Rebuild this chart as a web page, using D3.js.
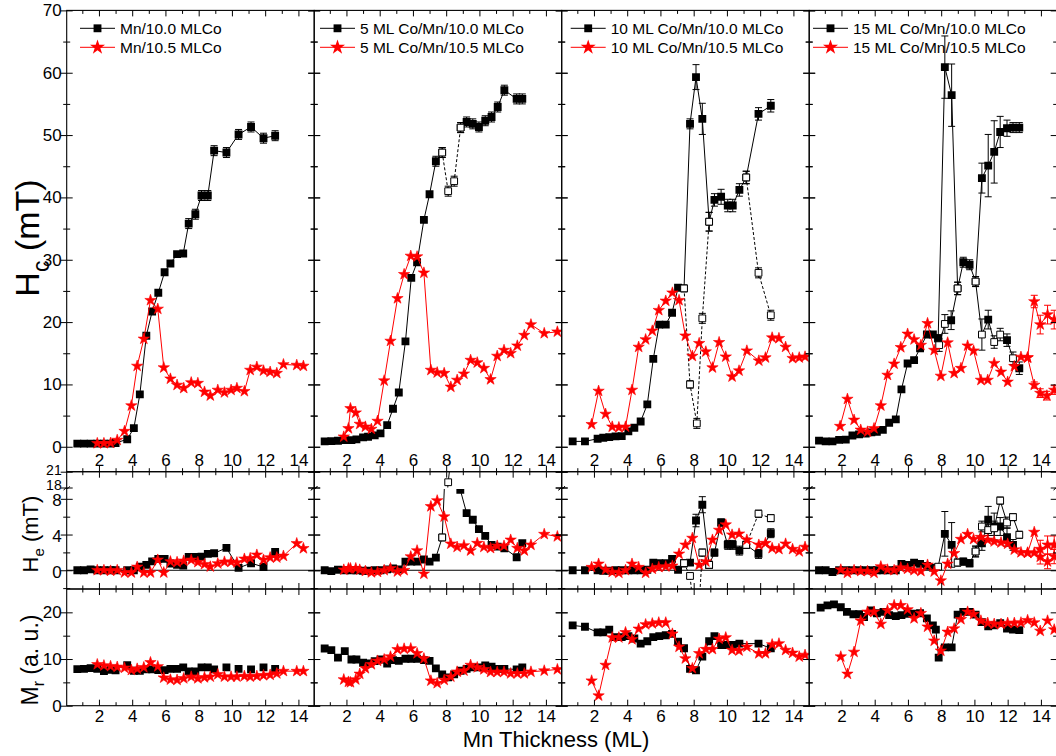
<!DOCTYPE html>
<html>
<head>
<meta charset="utf-8">
<script src="https://cdn.jsdelivr.net/npm/d3@7"></script>
<style>
  body { margin: 0; background: #fff; }
  svg { display: block; }
</style>
</head>
<body>
<svg id="chart" width="1056" height="756"></svg>
<script>
// ---------------------------------------------------------------------------
// Data: [thickness (ML), value, error, open marker flag]; null breaks a line
// ---------------------------------------------------------------------------
const legendBlack = ["Mn/10.0 MLCo", "5 ML Co/Mn/10.0 MLCo", "10 ML Co/Mn/10.0 MLCo", "15 ML Co/Mn/10.0 MLCo"];
const legendRed = ["Mn/10.5 MLCo", "5 ML Co/Mn/10.5 MLCo", "10 ML Co/Mn/10.5 MLCo", "15 ML Co/Mn/10.5 MLCo"];
const xMajorTicks = [2, 4, 6, 8, 10, 12, 14];
const xMinorTicks = [1, 3, 5, 7, 9, 11, 13];
const hcTicks = [0, 10, 20, 30, 40, 50, 60, 70];
const heLowTicks = [0, 4, 8];
const heHighTicks = [18, 21];
const mrTicks = [0, 10, 20];

// ---- Mn / Co wedge ----
const hcBlack1 = [[0.7,0.5],[1.1,0.5],[1.5,0.5],[1.9,0.5],[2.3,0.5],[2.7,0.5],[3.0,0.6],[3.7,1.2],[4.1,3.0],[4.46,8.4],[4.85,17.8],[5.2,21.7],[5.57,24.7],[5.95,28.0],[6.3,29.4],[6.7,30.9],[7.07,31.0],[7.4,35.8,0.8],[7.8,37.3,0.8],[8.17,40.3,0.8],[8.55,40.3,0.8],[8.93,47.5,0.8],[9.67,47.2,0.8],[10.4,50.1,0.8],[11.15,51.3,0.8],[11.9,49.5,0.8],[12.6,49.9,0.8]];
const hcRed1 = [[1.9,0.55],[2.3,0.55],[2.7,0.6],[3.1,1.07],[3.54,2.5],[3.95,6.6],[4.3,12.95],[4.7,17.3],[5.1,23.5],[5.54,22.1],[5.9,12.7],[6.3,10.9],[6.7,9.9],[7.1,9.4],[7.55,10.3],[7.95,10.2],[8.35,8.8],[8.7,8.2],[9.15,9.1],[9.55,8.7],[9.95,9.1],[10.3,9.4],[10.75,8.9],[11.1,12.3],[11.5,12.8],[11.9,12.2],[12.3,12.0],[12.7,11.8],[13.1,13.2],[13.9,13.1],[14.3,12.95]];
const heBlack1 = [[0.7,0],[1.1,0],[1.5,0.1],[1.9,0],[2.3,0],[2.7,0],[3.0,0],[3.7,0],[4.1,0],[4.46,0.4],[4.85,0.6],[5.2,1.0],[5.57,1.27],[5.95,1.27],[6.3,0.75],[6.7,0.6],[7.07,0.52],[7.4,1.5],[7.8,1.5],[8.17,1.53],[8.55,1.83],[8.93,1.9],[9.67,2.5],[10.4,0.26],[11.15,0.79],[11.9,0.37],[12.6,2.04]];
const heRed1 = [[1.9,0],[2.3,0],[2.7,-0.07],[3.1,0],[3.54,-0.26],[3.95,-0.26],[4.3,0.37],[4.7,-0.26],[5.1,-0.26],[5.54,1.16],[5.9,-0.26],[6.3,0.97],[6.7,0.9],[7.1,1.05],[7.55,1.16],[7.95,0.9],[8.35,0.67],[8.7,0.4],[9.15,0.75],[9.55,0.94],[9.95,0.94],[10.3,0.86],[10.75,1.27],[11.1,1.34],[11.5,1.72],[11.9,1.16],[12.3,1.42],[12.7,1.42],[13.1,1.6],[13.9,3.0],[14.3,2.45]];
const mrBlack1 = [[0.7,7.84],[1.1,7.9],[1.5,8.05],[1.9,7.9],[2.3,7.4],[2.7,7.7],[3.0,7.6],[3.7,8.7],[4.1,7.5],[4.46,7.5],[4.85,7.77],[5.2,7.77],[5.57,7.63],[5.95,7.63],[6.3,7.9],[6.7,7.9],[7.07,8.2],[7.4,7.35],[7.8,7.35],[8.17,8.2],[8.55,8.2],[8.93,7.77],[9.67,8.2],[10.4,7.9],[11.15,7.77],[11.9,8.2],[12.6,7.9]];
const mrRed1 = [[1.9,8.84],[2.3,8.6],[2.7,8.45],[3.1,8.3],[3.54,8.1],[3.95,7.63],[4.3,7.9],[4.7,8.2],[5.1,9.27],[5.54,8.4],[5.9,5.99],[6.3,5.57],[6.7,5.5],[7.1,5.84],[7.55,6.2],[7.95,5.84],[8.35,6.05],[8.7,6.2],[9.15,6.7],[9.55,6.2],[9.95,6.2],[10.3,6.2],[10.75,6.34],[11.1,6.2],[11.5,6.34],[11.9,6.5],[12.3,6.6],[12.7,6.9],[13.1,7.4],[13.9,7.4],[14.3,7.4]];

// ---- 5 ML Co cap ----
const hcBlack2 = [[0.69,0.86],[1.09,0.91],[1.49,0.96],[1.9,1.07],[2.3,1.07],[2.6,1.18],[3.0,1.5],[3.3,1.6],[3.7,1.82],[4.05,2.14],[4.45,3.48],[4.8,6.1],[5.15,8.7],[5.55,16.9],[5.9,27.1],[6.25,29.6],[6.66,36.4],[7.0,40.5],[7.38,45.8,0.8],[7.76,47.2,0.8,1],null,[8.87,51.2,0.8,1],[9.23,52.1,0.8],[9.6,51.8,0.8],[9.97,51.3,0.8],[10.35,52.3,0.8],[10.73,52.9,0.8],[11.1,54.5,0.8],[11.5,57.2,0.8],[12.24,55.8,0.8],[12.58,55.8,0.8]];
const hcBlackAlt2 = [[7.76,47.2,0.8,1],[8.12,41.0,0.8,1],[8.48,42.6,0.8,1],[8.87,51.2,0.8,1]];
const hcRed2 = [[1.84,1.6],[2.12,2.94],[2.24,6.15],[2.56,5.46],[2.8,3.64],[3.14,3.2],[3.5,2.84],[3.87,4.12],[4.27,10.6],[4.65,16.96],[5.07,23.8],[5.47,27.66],[5.87,30.6],[6.25,30.5],[6.66,27.9],[7.08,12.3],[7.46,11.9],[7.88,11.8],[8.28,9.6],[8.66,10.7],[9.07,11.7],[9.47,13.9],[9.87,13.5],[10.27,12.6],[10.67,10.8],[11.07,14.55],[11.48,15.5],[11.88,15.0],[12.28,16.2],[12.7,17.9],[13.1,19.6],[13.9,18.2],[14.69,18.45]];
const heBlack2 = [[0.69,0],[1.09,-0.1],[1.49,0.05],[1.9,0],[2.3,0],[2.6,0],[3.0,-0.05],[3.3,-0.05],[3.7,0],[4.05,0],[4.45,0.1],[4.8,0.2],[5.15,0.1],[5.55,0.97],[5.9,0.97],[6.25,0.97],[6.66,1.2],[7.0,0.97],[7.38,1.42],[7.76,3.67,0,1],null,[8.85,9.0],[9.23,6.4,0.3],[9.6,5.65,0.3],[9.97,4.6,0.3],[10.35,3.85,0.3],[10.73,2.84],[11.1,2.65],[11.5,2.47,0.3],[12.24,1.46,0.3],[12.58,3.03,0.3]];
const heBlackAlt2 = [[7.76,3.67,0,1],[8.12,19.0,0,1],[8.3,24.0]];
const heRed2 = [[1.84,0.05],[2.12,0.2],[2.24,0.2],[2.56,0.2],[2.8,0.05],[3.14,-0.1],[3.5,-0.25],[3.87,-0.2],[4.27,0],[4.65,0.2],[5.07,-0.15],[5.47,0],[5.87,1.53],[6.25,2.2],[6.66,-0.4],[7.08,7.15],[7.46,7.8],[7.88,6.0],[8.28,2.96],[8.66,2.6],[9.07,2.77],[9.47,2.2],[9.87,3.03],[10.27,2.6],[10.67,2.47],[11.07,2.73],[11.48,2.73],[11.88,3.4],[12.28,2.47],[12.7,2.2],[13.1,2.84],[13.9,4.04],[14.69,3.78]];
const mrBlack2 = [[0.69,12.25],[1.09,11.9],[1.49,10.3],[1.9,11.7],[2.3,9.9],[2.6,9.9],[3.0,9.2],[3.3,9.05],[3.7,9.55],[4.05,9.9],[4.45,9.05],[4.8,9.76],[5.15,9.6],[5.55,10.05],[5.9,10.05],[6.25,10.05],[6.66,9.76],[7.0,9.6],[7.38,8.0],[7.76,6.7],[8.12,6.07],[8.48,6.7],[8.87,7.5],[9.23,7.9],[9.6,8.2],[9.97,8.2],[10.35,8.6],[10.73,8.35],[11.1,7.9],[11.5,7.9],[12.24,7.77],[12.58,8.2]];
const mrRed2 = [[1.84,5.6],[2.12,5.1],[2.24,5.0],[2.56,5.6],[2.8,6.8],[3.14,8.0],[3.5,8.85],[3.87,9.6],[4.27,9.9],[4.65,10.5],[5.07,12.05],[5.47,12.2],[5.87,12.25],[6.25,11.2],[6.66,10.1],[7.08,5.35],[7.46,4.8],[7.88,5.5],[8.28,6.2],[8.66,7.26],[9.07,7.5],[9.47,8.7],[9.87,8.2],[10.27,7.77],[10.67,7.2],[11.07,7.2],[11.48,7.26],[11.88,6.9],[12.28,6.9],[12.7,6.9],[13.1,7.26],[13.9,7.5],[14.69,7.77]];

// ---- 10 ML Co cap ----
const hcBlack3 = [[0.72,0.86],[1.46,0.86],[2.22,1.29],[2.56,1.45],[2.92,1.55],[3.3,1.66],[3.67,1.71],[4.07,2.46],[4.43,3.05],[4.81,4.06],[5.21,6.8],[5.57,14.1],[5.93,19.6],[6.32,19.6],[6.7,21.5],[7.06,25.5],[7.42,25.4,0.5,1],[7.78,51.8,0.8],[8.14,59.3,2.0],[8.52,52.6,2.5],[8.93,36.1,1.5,1],[9.25,39.6,1.0],[9.65,40.1,1.2],[10.05,38.7,1.0],[10.35,38.7,1.0],[10.75,41.2,1.0],[11.16,43.2,1.0,1],[11.9,53.4,1.0],[12.64,54.7,1.0]];
const hcBlackAlt3 = [[7.42,25.4,0.5,1],[7.78,10.0,0.6,1],[8.19,3.75,0.8,1],[8.52,20.6,0.8,1],[8.93,36.1,1.5,1],null,[11.16,43.2,1.0,1],[11.9,27.9,0.8,1],[12.64,21.1,0.8,1]];
const hcRed3 = [[1.86,3.6],[2.28,8.94],[2.7,5.25],[3.1,3.2],[3.5,3.1],[3.9,3.2],[4.29,9.1],[4.69,16.0],[5.11,17.2],[5.51,18.6],[5.9,21.9],[6.32,23.4],[6.72,24.7],[7.12,23.5],[7.5,17.8],[7.92,14.55],[8.33,16.6],[8.73,15.25],[9.13,12.7],[9.53,16.75],[9.93,14.44],[10.31,11.25],[10.73,12.2],[11.2,15.4],[11.92,13.8],[12.32,14.3],[12.72,17.5],[13.13,17.4],[13.53,16.0],[13.95,14.2],[14.35,14.3],[14.7,14.44]];
const heBlack3 = [[0.72,0],[1.46,0],[2.22,0],[2.56,-0.05],[2.92,-0.05],[3.3,0],[3.67,0],[4.07,0],[4.43,0],[4.81,0],[5.21,0.05],[5.57,0.86],[5.93,0.79],[6.32,0.79],[6.7,1.27],[7.06,0.06],[7.42,0.79,0.4,1],[7.78,0.86,0.3],[8.14,5.57,0.7],[8.52,7.34,0.9],[8.93,0.6,0.4,1],[9.25,1.98,0.4],[9.65,5.35,0.4],[10.05,2.84,0.5],[10.35,2.84,0.5],[10.75,2.2,0.5],[11.16,2.84,0.4,1],[11.9,1.83,0.5],[12.64,4.15,0.5]];
const heBlackAlt3 = [[7.42,0.79,0.4,1],[7.78,-0.64,0.3,1],[8.19,-8.0,0,1],[8.52,1.98,0.4,1],[8.93,0.6,0.4,1],null,[11.16,2.84,0.4,1],[11.9,6.33,0.4,1],[12.64,5.84,0.4,1]];
const heRed3 = [[1.86,0.34],[2.28,0.71],[2.7,0.06],[3.1,-0.2],[3.5,-0.3],[3.9,0],[4.29,0.71],[4.69,0.34],[5.11,-0.3],[5.51,0.15],[5.9,0.34],[6.32,0.41],[6.72,0.49],[7.12,1.83],[7.5,2.84],[7.92,3.6],[8.33,0.6],[8.73,0.97],[9.13,3.4],[9.53,4.5],[9.93,5.1],[10.31,3.97],[10.73,4.08],[11.2,3.4],[11.92,2.84],[12.32,3.03],[12.72,2.47],[13.13,2.36],[13.53,2.96],[13.95,2.36],[14.35,2.1],[14.7,2.6]];
const mrBlack3 = [[0.72,17.2],[1.46,16.9],[2.22,15.7],[2.56,15.7],[2.92,16.3],[3.3,14.7],[3.67,14.7],[4.07,14.9],[4.43,14.4],[4.81,13.3],[5.21,13.8],[5.57,14.7],[5.93,14.9],[6.32,15.1],[6.7,15.4],[7.06,13.7],[7.42,12.3],[7.78,7.9],[8.14,7.6],[8.52,10.5],[8.93,13.8],[9.25,14.9],[9.65,13.0],[10.05,13.0],[10.35,13.0],[10.75,13.3],[11.9,13.3],[12.64,12.3]];
const mrRed3 = [[1.86,5.35],[2.28,2.14],[2.7,8.7],[3.1,14.6],[3.5,14.6],[3.9,15.7],[4.29,14.2],[4.69,16.45],[5.11,17.4],[5.51,17.6],[5.9,17.8],[6.32,17.8],[6.72,15.4],[7.12,12.6],[7.5,10.1],[7.92,8.0],[8.33,11.2],[8.73,12.1],[9.13,12.1],[9.53,14.3],[9.93,14.6],[10.31,11.9],[10.73,11.8],[11.2,12.6],[11.92,11.2],[12.32,11.2],[12.72,13.1],[13.13,13.3],[13.53,11.9],[13.95,11.3],[14.35,10.5],[14.7,10.85]];

// ---- 15 ML Co cap ----
const hcBlack4 = [[0.65,0.98],[1.05,0.87],[1.46,0.87],[1.86,1.1],[2.26,1.15],[2.66,1.8],[3.06,1.98],[3.46,2.1],[3.8,2.3],[4.13,2.4],[4.49,2.7],[4.87,3.85],[5.27,4.4],[5.61,9.2],[5.98,13.36],[6.37,13.9],[6.73,15.8],[7.14,18.0],[7.5,18.0],[7.82,17.4],[8.22,60.9,5],[8.63,56.4,5],[8.99,25.4,1,1],[9.33,29.6,0.8],[9.71,29.2,0.8],[10.07,26.5,0.8,1],[10.45,43.1,2.4],[10.83,45.1,5],[11.19,47.3,5],[11.55,50.5,2.5],[11.96,51.1,1.3],[12.32,51.2,0.8],[12.7,51.2,0.8]];
const hcBlackAlt4 = [[7.82,17.4],[7.88,16.3,1,1],[8.22,19.7,1.5,1],[8.6,20.3,1.5],[8.99,25.4,1,1],null,[10.07,26.5,0.8,1],[10.45,18.0,2.5,1],[10.83,20.4,1.5],[11.19,16.8,1,1],[11.55,18.0,1,1],[11.96,17.1,1],[12.32,14.2,1,1],[12.7,12.6,1]];
const hcRed4 = [[1.92,3.3],[2.36,7.65],[2.76,4.3],[3.16,2.7],[3.57,2.4],[3.96,2.94],[4.37,6.6],[4.77,11.5],[5.17,13.3],[5.57,15.95],[5.98,18.1],[6.37,17.2],[6.78,16.3],[7.18,19.8],[7.58,15.5],[7.98,11.35],[8.39,16.7],[8.78,11.8],[9.19,12.6],[9.59,16.2],[9.95,15.4],[10.39,10.7],[10.8,10.7],[11.19,13.4],[11.6,12.0],[12.0,10.4],[12.4,12.9],[12.8,14.4],[13.2,14.3],[13.6,23.3,1],[13.96,19.6,1.5],[14.4,21.2,1.5],[14.8,20.4,1.5]];
const hcRedAlt4 = [[13.2,14.3],[13.6,9.9,0.5],[13.96,8.6,0.7],[14.36,8.2,0.7],[14.8,9.1,0.7]];
const heBlack4 = [[0.65,0],[1.05,0],[1.46,-0.2],[1.86,0],[2.26,0],[2.66,0],[3.06,0],[3.46,0],[3.8,0],[4.13,0],[4.49,0],[4.87,0],[5.27,0],[5.61,0.71],[5.98,0.6],[6.37,0.86],[6.73,0.71],[7.14,0.49],[7.5,0.3],[7.82,0.4,0,1],[8.22,4.08,2.5],[8.63,2.84,2.5],[8.99,0.86,0.4,1],[9.33,0.97,0.4],[9.71,0.79,0.4],[10.07,2.1,0.6,1],[10.45,3.03,0.8],[10.83,5.65,1.5],[11.19,4.9,1.5],[11.55,4.9,1],[11.96,3.7,1],[12.32,2.84,0.6]];
const heBlackAlt4 = [[10.07,2.1,0.6,1],[10.45,4.9,0.6,1],[10.83,4.5,0.6,1],[11.19,4.7,0.8,1],[11.55,7.8,0.4,1],[11.96,5.35,0.6,1],[12.32,5.95,0.4,1],[12.7,3.97,0.4,1]];
const heRed4 = [[1.96,0.06],[2.36,-0.3],[2.76,0],[3.16,-0.1],[3.57,-0.1],[3.96,-0.3],[4.37,0.41],[4.77,0.06],[5.17,0],[5.57,0.3],[5.98,0.15],[6.37,0],[6.78,-0.1],[7.18,0.6],[7.58,-0.15],[7.98,-1.17],[8.39,0.71],[8.78,1.9],[9.19,3.48],[9.59,4.04],[9.95,3.48],[10.39,3.7],[10.8,3.4],[11.19,3.22],[11.6,3.1],[12.0,2.96],[12.4,2.3],[12.8,2.0],[13.2,1.95],[13.6,4.27],[13.96,2.36,1],[14.4,2.84,1],[14.8,2.84,1]];
const heRedAlt4 = [[13.2,1.95],[13.6,1.95],[13.96,1.5,0.8],[14.4,0.97,0.8],[14.8,1.53,0.8]];
const mrBlack4 = [[0.75,21.0],[1.16,21.5],[1.55,21.7,0.5],[1.96,21.1],[2.33,20.1],[2.72,19.6],[3.06,19.6],[3.36,19.0],[3.77,20.4],[4.13,19.8],[4.53,20.1],[4.87,19.4],[5.27,19.2],[5.61,19.4],[5.98,19.7],[6.37,19.7],[6.73,19.8],[7.14,18.7],[7.5,17.2],[7.68,16.3],[7.85,10.3],[8.22,12.5],[8.63,12.5],[8.99,19.5],[9.33,20.1],[9.71,20.1],[10.07,19.5],[10.45,17.9],[10.83,17.0],[11.19,17.2],[11.55,17.7],[11.96,16.5],[12.32,16.3],[12.7,16.2]];
const mrRed4 = [[1.96,10.5],[2.36,6.8],[2.76,11.5],[3.16,18.2],[3.57,20.1],[3.96,20.1],[4.37,17.5],[4.77,20.4],[5.17,21.5],[5.57,21.5],[5.98,20.6],[6.37,18.7],[6.78,19.8],[7.18,16.9],[7.58,13.9],[7.98,11.75],[8.39,15.8],[8.78,16.5],[9.19,18.5],[9.59,20.1],[9.95,19.6],[10.39,18.2],[10.8,17.7],[11.19,17.5],[11.6,17.5],[12.0,17.7],[12.4,17.7],[12.8,17.8],[13.2,18.3],[13.6,17.8],[13.96,16.0],[14.4,18.2],[14.8,16.3]];

// ---------------------------------------------------------------------------
// Series grouped by panel column and row
// ---------------------------------------------------------------------------
const columns = [
  { hc: [{d: hcBlack1, c: "black"}, {d: hcRed1, c: "red"}],
    he: [{d: heBlack1, c: "black"}, {d: heRed1, c: "red"}],
    mr: [{d: mrBlack1, c: "black", noLine: true}, {d: mrRed1, c: "red"}] },
  { hc: [{d: hcBlack2, c: "black"}, {d: hcBlackAlt2, c: "black", dash: true}, {d: hcRed2, c: "red"}],
    he: [{d: heBlack2, c: "black"}, {d: heBlackAlt2, c: "black"}, {d: heRed2, c: "red"}],
    mr: [{d: mrBlack2, c: "black"}, {d: mrRed2, c: "red"}] },
  { hc: [{d: hcBlack3, c: "black"}, {d: hcBlackAlt3, c: "black", dash: true}, {d: hcRed3, c: "red"}],
    he: [{d: heBlack3, c: "black"}, {d: heBlackAlt3, c: "black", dash: true}, {d: heRed3, c: "red"}],
    mr: [{d: mrBlack3, c: "black"}, {d: mrRed3, c: "red"}] },
  { hc: [{d: hcBlack4, c: "black"}, {d: hcBlackAlt4, c: "black"}, {d: hcRed4, c: "red"}, {d: hcRedAlt4, c: "red"}],
    he: [{d: heBlack4, c: "black"}, {d: heBlackAlt4, c: "black"}, {d: heRed4, c: "red"}, {d: heRedAlt4, c: "red"}],
    mr: [{d: mrBlack4, c: "black"}, {d: mrRed4, c: "red"}] }
];

// ---------------------------------------------------------------------------
// Layout and scales
// ---------------------------------------------------------------------------
const FONT = "'Liberation Sans', Arial, Helvetica, sans-serif";
const RED = "#ff0000";
const left0 = 66.7, panelW = 247.5;
const rows = { hc: [10.4, 471.7], he: [471.7, 589], mr: [589, 705.7] };
const heBreak = 488.3;

const yHc = d3.scaleLinear().domain([-4, 70]).range([471.7, 10.4]);
const yHeLow = d3.scaleLinear().domain([-2.1, 9.1]).range([589, 489]);
const yHeHigh = d3.scaleLinear().domain([18, 21]).range([487.5, 471.7]);
const yMr = d3.scaleLinear().domain([0, 25]).range([705.7, 589]);
const intFmt = d3.format("d");

const svg = d3.select("#chart");
const defs = svg.append("defs");
const plot = svg.append("g");
const axes = svg.append("g");

const square = d3.symbol().type(d3.symbolSquare).size(62);
const openSquare = d3.symbol().type(d3.symbolSquare).size(46);
const star = d3.symbol().type(d3.symbolStar).size(40);

function clipRect(id, x0, y0, w, h) {
  defs.append("clipPath").attr("id", id)
    .append("rect").attr("x", x0).attr("y", y0).attr("width", w).attr("height", h);
  return `url(#${id})`;
}

// one series within one vertical segment of a panel
function drawSeries(g, s, x, y, inRange) {
  const col = s.c === "red" ? RED : "#000";
  if (!s.noLine) {
    const line = d3.line().defined(d => d !== null)
      .x(d => x(d[0])).y(d => y(d[1]));
    g.append("path").datum(s.d)
      .attr("d", line).attr("fill", "none")
      .attr("stroke", col).attr("stroke-width", 1)
      .attr("stroke-dasharray", s.dash ? "3,2" : null);
  }
  const pts = s.d.filter(d => d !== null && inRange(d[1]));
  // error bars with caps
  const eb = g.append("g").attr("stroke", col).attr("stroke-width", 1);
  pts.filter(d => d[2]).forEach(d => {
    const cx = x(d[0]), lo = y(d[1] - d[2]), hi = y(d[1] + d[2]);
    eb.append("line").attr("x1", cx).attr("x2", cx).attr("y1", lo).attr("y2", hi);
    eb.append("line").attr("x1", cx - 3.5).attr("x2", cx + 3.5).attr("y1", lo).attr("y2", lo);
    eb.append("line").attr("x1", cx - 3.5).attr("x2", cx + 3.5).attr("y1", hi).attr("y2", hi);
  });
  const mk = g.append("g");
  pts.forEach(d => {
    const t = `translate(${x(d[0])},${y(d[1])})`;
    if (s.c === "red") {
      mk.append("path").attr("d", star()).attr("transform", t)
        .attr("fill", RED).attr("stroke", RED).attr("stroke-width", 0.6);
    } else if (d[3] === 1) {
      mk.append("path").attr("d", openSquare()).attr("transform", t)
        .attr("fill", "#fff").attr("stroke", "#000").attr("stroke-width", 1);
    } else {
      mk.append("path").attr("d", square()).attr("transform", t).attr("fill", "#000");
    }
  });
}

function styleAxis(g) {
  g.select(".domain").remove();
  g.selectAll("line").attr("stroke", "#000").attr("stroke-width", 1);
  g.selectAll("text").attr("font-family", FONT).attr("font-size", 17).attr("fill", "#000");
}

// ticks that cross a border line on both sides
function crossTicksY(x0, scale, major, minor) {
  [d3.axisLeft, d3.axisRight].forEach(mkAxis => {
    axes.append("g").attr("transform", `translate(${x0},0)`)
      .call(mkAxis(scale).tickValues(major).tickSize(6).tickFormat(""))
      .call(styleAxis);
    if (minor.length)
      axes.append("g").attr("transform", `translate(${x0},0)`)
        .call(mkAxis(scale).tickValues(minor).tickSize(3.5).tickFormat(""))
        .call(styleAxis);
  });
}
function crossTicksX(y0, scale, both) {
  const makers = both ? [d3.axisTop, d3.axisBottom] : [d3.axisTop];
  makers.forEach(mkAxis => {
    axes.append("g").attr("transform", `translate(0,${y0})`)
      .call(mkAxis(scale).tickValues(xMajorTicks).tickSize(6).tickFormat(""))
      .call(styleAxis);
    axes.append("g").attr("transform", `translate(0,${y0})`)
      .call(mkAxis(scale).tickValues(xMinorTicks).tickSize(3.5).tickFormat(""))
      .call(styleAxis);
  });
}

columns.forEach((col, i) => {
  const L = left0 + i * panelW;
  const x = d3.scaleLinear().domain([0.06, 14.95]).range([L, L + panelW]);

  // --- coercivity row ---
  const gHc = plot.append("g").attr("clip-path", clipRect(`hc${i}`, L, rows.hc[0], panelW, rows.hc[1] - rows.hc[0]));
  col.hc.forEach(s => drawSeries(gHc, s, x, yHc, v => v >= -4 && v <= 70));

  // --- exchange-bias row (broken axis) ---
  const gZero = plot.append("g");
  gZero.append("line").attr("x1", L).attr("x2", L + panelW)
    .attr("y1", yHeLow(0)).attr("y2", yHeLow(0)).attr("stroke", "#000").attr("stroke-width", 1);
  const gHeLow = plot.append("g").attr("clip-path", clipRect(`hel${i}`, L, 489, panelW, 100));
  const gHeHigh = plot.append("g").attr("clip-path", clipRect(`heh${i}`, L, 471.7, panelW, 15.8));
  col.he.forEach(s => drawSeries(gHeLow, s, x, yHeLow, v => v >= -2.1 && v <= 9.1));
  col.he.forEach(s => drawSeries(gHeHigh, s, x, yHeHigh, v => v >= 18 && v <= 21));

  // --- remanence row ---
  const gMr = plot.append("g").attr("clip-path", clipRect(`mr${i}`, L, rows.mr[0], panelW, rows.mr[1] - rows.mr[0]));
  col.mr.forEach(s => drawSeries(gMr, s, x, yMr, v => v >= 0 && v <= 25));

  // --- frames ---
  Object.values(rows).forEach(([t, b]) => {
    axes.append("rect").attr("x", L).attr("y", t).attr("width", panelW).attr("height", b - t)
      .attr("fill", "none").attr("stroke", "#000").attr("stroke-width", 1.1);
  });

  // --- y ticks on both borders ---
  [L, L + panelW].forEach(bx => {
    crossTicksY(bx, yHc, hcTicks, d3.range(5, 70, 10));
    crossTicksY(bx, yHeLow, heLowTicks, [-2, 2, 6]);
    crossTicksY(bx, yHeHigh, heHighTicks, []);
    crossTicksY(bx, yMr, mrTicks, [5, 15]);
    // axis-break mark
    axes.append("path")
      .attr("d", `M${bx - 3},${heBreak + 2} q1.5,-3 3,-2 q1.5,1 3,-2`)
      .attr("fill", "none").attr("stroke", "#000").attr("stroke-width", 1);
  });

  // --- x ticks ---
  axes.append("g").attr("transform", `translate(0,${rows.hc[0]})`)
    .call(d3.axisBottom(x).tickValues(xMajorTicks).tickSize(6).tickFormat("")).call(styleAxis);
  axes.append("g").attr("transform", `translate(0,${rows.hc[0]})`)
    .call(d3.axisBottom(x).tickValues(xMinorTicks).tickSize(3.5).tickFormat("")).call(styleAxis);
  crossTicksX(rows.hc[1], x, true);
  crossTicksX(rows.he[1], x, true);
  crossTicksX(rows.mr[1], x, false);

  // tick labels inside the coercivity row and under the bottom row
  axes.append("g").attr("transform", `translate(0,${rows.hc[1]})`)
    .call(d3.axisTop(x).tickValues(xMajorTicks).tickSize(0).tickPadding(5.5).tickFormat(intFmt)).call(styleAxis);
  axes.append("g").attr("transform", `translate(0,${rows.mr[1]})`)
    .call(d3.axisBottom(x).tickValues(xMajorTicks).tickSize(0).tickPadding(4.5).tickFormat(intFmt)).call(styleAxis);

  // --- legend ---
  const inset = [13.3, 5.8, 9, 3.8][i];
  const lg = axes.append("g").attr("transform", `translate(${L + inset},0)`);
  [[legendBlack[i], "#000", 28.3, square], [legendRed[i], RED, 47.3, star]].forEach(([label, c, ly, sym]) => {
    lg.append("line").attr("x1", 0).attr("x2", 35).attr("y1", ly).attr("y2", ly)
      .attr("stroke", c).attr("stroke-width", 1);
    lg.append("path").attr("d", sym === star ? d3.symbol().type(d3.symbolStar).size(70)() : sym())
      .attr("transform", `translate(17.5,${ly})`).attr("fill", c);
    lg.append("text").attr("x", 40).attr("y", ly).attr("dy", "0.36em")
      .attr("font-family", FONT).attr("font-size", 15.5).attr("fill", "#000").text(label);
  });
});

// --- y tick labels on the first column ---
function yLabels(scale, values, size, shift) {
  const g = axes.append("g").attr("transform", `translate(${left0},${shift})`)
    .call(d3.axisLeft(scale).tickValues(values).tickSize(0).tickPadding(5).tickFormat(intFmt)).call(styleAxis);
  g.selectAll("text").attr("font-size", size);
}
yLabels(yHc, hcTicks, 17, 0);
yLabels(yHeLow, heLowTicks, 17, 1.5);
yLabels(yHeHigh, heHighTicks, 14, -2);
yLabels(yMr, mrTicks, 17, 0);

// --- axis titles ---
function yTitle(cx, cy, main, sub, rest, size) {
  const t = axes.append("text")
    .attr("transform", `translate(${cx},${cy}) rotate(-90)`)
    .attr("text-anchor", "middle")
    .attr("font-family", FONT).attr("font-size", size).attr("fill", "#000");
  t.append("tspan").text(main);
  t.append("tspan").attr("font-size", size * 0.68).attr("dy", size * 0.28).text(sub);
  t.append("tspan").attr("dy", -size * 0.28).text(rest);
}
yTitle(39, 238, "H", "c", " (mT)", 34);
yTitle(38, 534, "H", "e", " (mT)", 22);
yTitle(38, 660, "M", "r", " (a. u.)", 23);

axes.append("text").attr("x", 556).attr("y", 747).attr("text-anchor", "middle")
  .attr("font-family", FONT).attr("font-size", 22).attr("fill", "#000")
  .text("Mn Thickness (ML)");
</script>
</body>
</html>
